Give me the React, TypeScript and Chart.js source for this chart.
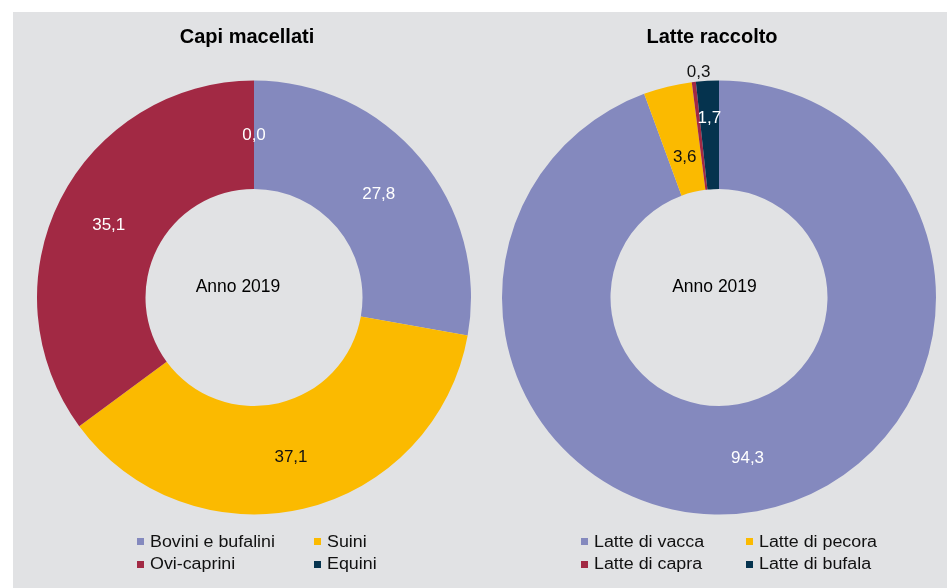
import React, { useEffect, useRef } from "react";
import { Chart, registerables } from "chart.js";

Chart.register(...registerables);

// ---- data ----
const capiTitle = "Capi macellati";
const capiLabels = ["Bovini e bufalini", "Suini", "Ovi-caprini", "Equini"];
const capiValues = [27.8, 37.1, 35.1, 0.0];

const latteTitle = "Latte raccolto";
const latteLabels = ["Latte di vacca", "Latte di pecora", "Latte di capra", "Latte di bufala"];
const latteValues = [94.3, 3.6, 0.3, 1.7];

const centerText = "Anno 2019";

// ---- styles ----
const sliceColors = ["#8489BE", "#FBBA00", "#A22944", "#05334E"];
const capiLabelColors = ["#FFFFFF", "#111111", "#FFFFFF", "#FFFFFF"];
const latteLabelColors = ["#FFFFFF", "#111111", "#111111", "#FFFFFF"];
const capiLabelRadius = [0.5, 0.5, 0.5, 0.5];
const latteLabelRadius = [0.5, 0.335, 1.096, 0.665];
const latteLabelAngle = [0, 0, 1.5, 0];
const PANEL_BG = "#E1E2E4";
const FONT = "'Liberation Sans', Arial, sans-serif";

const fmt = (v: number) => v.toFixed(1).replace(".", ",");

const sliceLabelPlugin = {
  id: "sliceLabels",
  afterDatasetsDraw(chart: any, _args: any, opts: any) {
    const ctx = chart.ctx;
    const meta = chart.getDatasetMeta(0);
    const values = chart.data.datasets[0].data as number[];
    ctx.save();
    ctx.font = `17px ${FONT}`;
    ctx.textAlign = "center";
    ctx.textBaseline = "middle";
    meta.data.forEach((arc: any, i: number) => {
      const p = arc.getProps(["x", "y", "startAngle", "endAngle", "innerRadius", "outerRadius"], true);
      const frac = (opts.radius && opts.radius[i]) ?? 0.5;
      const off = (((opts.angle && opts.angle[i]) ?? 0) * Math.PI) / 180;
      const a = (p.startAngle + p.endAngle) / 2 + off;
      const r = p.innerRadius + (p.outerRadius - p.innerRadius) * frac;
      ctx.fillStyle = (opts.colors && opts.colors[i]) || "#fff";
      ctx.fillText(fmt(values[i]), p.x + Math.cos(a) * r, p.y + Math.sin(a) * r + 1);
    });
    ctx.restore();
  },
};

type DonutProps = {
  labels: string[];
  values: number[];
  left: number;
  padLeft: number;
  padRight: number;
  labelColors: string[];
  labelRadius: number[];
  labelAngle?: number[];
};

function Donut(props: DonutProps) {
  const ref = useRef<HTMLCanvasElement | null>(null);
  useEffect(() => {
    if (!ref.current) return;
    const chart = new Chart(ref.current, {
      type: "doughnut",
      data: {
        labels: props.labels,
        datasets: [
          {
            data: props.values,
            backgroundColor: sliceColors,
            borderWidth: 0,
            hoverOffset: 0,
          },
        ],
      },
      options: {
        responsive: false,
        animation: false,
        cutout: "50%",
        layout: {
          padding: { left: props.padLeft, right: props.padRight, top: 68.5, bottom: 73.5 },
        },
        plugins: {
          legend: { display: false },
          title: { display: false },
          tooltip: { enabled: false },
          sliceLabels: {
            colors: props.labelColors,
            radius: props.labelRadius,
            angle: props.labelAngle || [],
          },
        } as any,
      },
      plugins: [sliceLabelPlugin],
    });
    return () => chart.destroy();
  }, []);
  return (
    <canvas
      ref={ref}
      width={467}
      height={576}
      style={{ position: "absolute", left: props.left, top: 12, width: 467, height: 576 }}
    />
  );
}

function Legend({ labels, left, col2 }: { labels: string[]; left: number; col2: number }) {
  const rows = [
    [0, 1],
    [2, 3],
  ];
  return (
    <>
      {rows.map((row, ri) =>
        row.map((idx, ci) => (
          <div
            key={`${ri}-${ci}`}
            style={{
              position: "absolute",
              left: ci === 0 ? left : col2,
              top: 530.5 + ri * 22.5,
              height: 22,
              display: "flex",
              alignItems: "center",
              whiteSpace: "nowrap",
            }}
          >
            <span
              style={{
                display: "inline-block",
                width: 7,
                height: 7,
                background: sliceColors[idx],
                marginRight: 6,
              }}
            />
            <span
              style={{
                display: "inline-block",
                fontFamily: FONT,
                fontSize: 16,
                lineHeight: "22px",
                color: "#111",
                transform: "scaleX(1.115)",
                transformOrigin: "left center",
              }}
            >
              {labels[idx]}
            </span>
          </div>
        ))
      )}
    </>
  );
}

function TextAt({ text, cx, cy, size, bold }: { text: string; cx: number; cy: number; size: number; bold?: boolean }) {
  return (
    <div
      style={{
        position: "absolute",
        left: cx - 150,
        width: 300,
        top: cy - 15,
        height: 30,
        lineHeight: "30px",
        textAlign: "center",
        fontFamily: FONT,
        fontSize: size,
        fontWeight: bold ? "bold" : "normal",
        color: "#000",
        whiteSpace: "nowrap",
      }}
    >
      {text}
    </div>
  );
}

export default function App() {
  return (
    <div style={{ position: "absolute", left: 0, top: 0, width: 947, height: 588, background: "#fff", overflow: "hidden" }}>
      <div style={{ position: "absolute", left: 13, top: 12, width: 934, height: 576, background: PANEL_BG }} />
      <Donut
        labels={capiLabels}
        values={capiValues}
        left={13}
        padLeft={23.5}
        padRight={8.5}
        labelColors={capiLabelColors}
        labelRadius={capiLabelRadius}
      />
      <Donut
        labels={latteLabels}
        values={latteValues}
        left={480}
        padLeft={21.5}
        padRight={10.5}
        labelColors={latteLabelColors}
        labelRadius={latteLabelRadius}
        labelAngle={latteLabelAngle}
      />
      <TextAt text={capiTitle} cx={247} cy={36} size={20} bold />
      <TextAt text={latteTitle} cx={712} cy={36} size={20} bold />
      <TextAt text={centerText} cx={238} cy={286} size={17.5} />
      <TextAt text={centerText} cx={714.5} cy={286} size={17.5} />
      <Legend labels={capiLabels} left={137} col2={314} />
      <Legend labels={latteLabels} left={581} col2={746} />
    </div>
  );
}
